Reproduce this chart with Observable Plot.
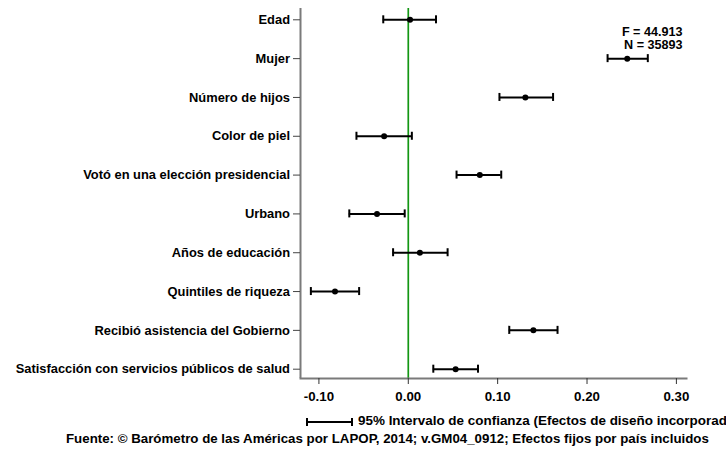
<!DOCTYPE html>
<html>
<head>
<meta charset="utf-8">
<script src="https://cdn.jsdelivr.net/npm/d3@7"></script>
<script src="https://cdn.jsdelivr.net/npm/@observablehq/plot@0.6"></script>
<style>
  html, body { margin: 0; padding: 0; background: #fff; }
  body {
    position: relative; width: 726px; height: 456px; overflow: hidden;
    font-family: "Liberation Sans", Arial, Helvetica, sans-serif;
    font-weight: bold; font-size: 13.3px; color: #000;
  }
  #chart svg { display: block; }
  #legend {
    position: absolute; left: 306px; top: 413px; line-height: 15px;
    white-space: nowrap; font-size: 13.45px;
  }
  #legend .ci {
    display: inline-block; box-sizing: border-box; width: 47px; height: 8px;
    border-left: 2px solid #000; border-right: 2px solid #000;
    background: linear-gradient(#000, #000) center / 100% 2px no-repeat;
    vertical-align: -1px; margin-right: 5px;
  }
  #caption {
    position: absolute; left: 66px; top: 431px; line-height: 15px;
    white-space: nowrap;
  }
</style>
</head>
<body>
<div id="chart"></div>
<div id="legend"><span class="ci"></span>95% Intervalo de confianza (Efectos de diseño incorporado)</div>
<div id="caption">Fuente: © Barómetro de las Américas por LAPOP, 2014; v.GM04_0912; Efectos fijos por país incluidos</div>
<script>
// Regression predictors, top to bottom
const variables = [
  "Edad",
  "Mujer",
  "Número de hijos",
  "Color de piel",
  "Votó en una elección presidencial",
  "Urbano",
  "Años de educación",
  "Quintiles de riqueza",
  "Recibió asistencia del Gobierno",
  "Satisfacción con servicios públicos de salud"
];
// Standardized coefficients and their 95% confidence bounds
const coefficients = [0.002, 0.245, 0.131, -0.027, 0.080, -0.035, 0.013, -0.082, 0.140, 0.053];
const lowerBounds  = [-0.028, 0.223, 0.102, -0.058, 0.054, -0.066, -0.017, -0.109, 0.113, 0.028];
const upperBounds  = [0.031, 0.268, 0.162, 0.004, 0.104, -0.004, 0.044, -0.055, 0.167, 0.078];
const xTicks = [-0.1, 0, 0.1, 0.2, 0.3];
const fitStats = ["F = 44.913", "N = 35893"];

const rows = variables.map((variable, i) => ({
  variable,
  coef: coefficients[i],
  lo: lowerBounds[i],
  hi: upperBounds[i]
}));

const xDomain = [-0.1206, 0.3113];

const chart = Plot.plot({
  width: 726,
  height: 408,
  marginLeft: 300,
  marginRight: 40,
  marginTop: 8,
  marginBottom: 30,
  style: {
    fontFamily: "'Liberation Sans', Arial, Helvetica, sans-serif",
    fontSize: "12.9px",
    fontWeight: "bold",
    color: "#000",
    background: "#fff"
  },
  x: { domain: xDomain },
  // one band per predictor; bands extend slightly past the frame
  y: { type: "band", domain: variables, padding: 0, round: false, insetTop: -8.1, insetBottom: -10.1 },
  marks: [
    // reference line at zero effect
    Plot.ruleX([0], { stroke: "#139613", strokeWidth: 1.7 }),
    // axis lines
    Plot.ruleX([xDomain[0]], { stroke: "#7a7a7a", strokeWidth: 2 }),
    Plot.frame({ anchor: "bottom", stroke: "#7a7a7a", strokeWidth: 2 }),
    Plot.axisX(xTicks, {
      tickFormat: d => d.toFixed(2),
      tickSize: 6, tickPadding: 7.5, label: null, stroke: "#333", fontSize: 13.3
    }),
    Plot.axisY({ tickSize: 7, tickPadding: 3.5, label: null, stroke: "#444" }),
    // confidence intervals with end caps
    Plot.ruleY(rows, { y: "variable", x1: "lo", x2: "hi", stroke: "#000", strokeWidth: 2 }),
    Plot.tickX(rows, { x: "lo", y: "variable", insetTop: 15.4, insetBottom: 15.4, stroke: "#000", strokeWidth: 2 }),
    Plot.tickX(rows, { x: "hi", y: "variable", insetTop: 15.4, insetBottom: 15.4, stroke: "#000", strokeWidth: 2 }),
    // point estimates
    Plot.dot(rows, { x: "coef", y: "variable", r: 3, fill: "#000", stroke: null }),
    // model fit statistics
    Plot.text([fitStats.join("\n")], {
      frameAnchor: "top-right", textAnchor: "end", dx: -4, dy: 17.6,
      lineHeight: 1.06, fontSize: 12.6, fontWeight: "bold", fill: "#000"
    })
  ]
});

document.getElementById("chart").appendChild(chart);
</script>
</body>
</html>
